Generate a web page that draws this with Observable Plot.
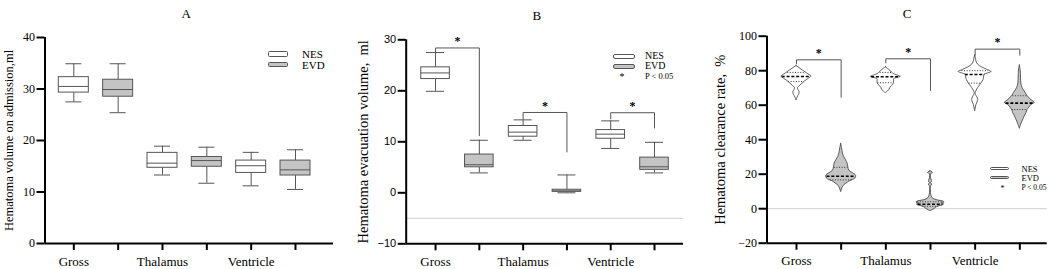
<!DOCTYPE html>
<html>
<head>
<meta charset="utf-8">
<script src="https://cdn.jsdelivr.net/npm/d3@7"></script>
<script src="https://cdn.jsdelivr.net/npm/@observablehq/plot@0.6"></script>
<style>
  body { margin: 0; background: #fff; }
  #wrap { position: relative; width: 1053px; height: 269px; overflow: hidden; background: #fff; font-family: "Liberation Serif", "Times New Roman", serif; color: #000; }
  .panel { position: absolute; top: 0; }
  .sw { position: absolute; box-sizing: border-box; border: 1px solid #555; }
  .lt { position: absolute; line-height: 1; transform: translateY(-50%); white-space: nowrap; color: #000; }
</style>
</head>
<body>
<div id="wrap"></div>
<script>
// ---------- data ----------
const categories = ["Gross", "Thalamus", "Ventricle"];
const groups = ["NES", "EVD"];
const positions = [1, 2, 3, 4, 5, 6]; // Gross NES, Gross EVD, Thalamus NES, Thalamus EVD, Ventricle NES, Ventricle EVD

// box stats [min, q1, median, q3, max]
const admissionStats = [
  [27.5, 29.3, 30.5, 32.3, 34.9],
  [25.4, 28.5, 29.9, 31.8, 34.9],
  [13.3, 14.7, 15.6, 17.6, 18.9],
  [11.7, 14.9, 16.1, 16.8, 18.7],
  [11.2, 13.7, 15.1, 16.1, 17.7],
  [10.5, 13.2, 14.3, 16.1, 18.2]
];
const evacuationStats = [
  [19.9, 22.3, 23.5, 24.6, 27.5],
  [3.9, 5.0, 5.5, 7.5, 10.3],
  [10.3, 11.0, 11.9, 13.1, 14.3],
  [0.0, 0.2, 0.35, 0.6, 3.5],
  [8.7, 10.6, 11.5, 12.3, 14.1],
  [3.9, 4.5, 5.1, 6.9, 9.9]
];

// violin profiles [value, relative density]
const clearanceGrossNES = [[82.7,0],[81.5,0.2],[80,0.45],[78.5,0.7],[77.3,0.9],[76.6,1],[75.5,0.85],[74,0.6],[72.5,0.4],[71,0.22],[70,0.1],[69,0.12],[67.8,0.2],[66.6,0.2],[65.3,0.12],[64,0.05],[62.7,0]];
const clearanceGrossEVD = [[37.6,0],[35,0.06],[32,0.12],[30,0.2],[28,0.33],[26,0.44],[24,0.48],[22,0.55],[20.5,0.8],[19,1],[17.5,0.95],[16,0.6],[14.5,0.35],[13,0.15],[11,0.05],[9.6,0]];
const clearanceThalNES = [[82,0],[81,0.15],[80,0.3],[79,0.4],[78,0.55],[77,0.85],[76.5,1],[75.8,0.75],[75,0.55],[74,0.55],[73,0.55],[72,0.5],[71,0.4],[70,0.3],[69,0.25],[68,0.15],[67,0]];
const clearanceThalEVD = [[21.6,0],[21,0.15],[20.5,0.15],[20,0.04],[18,0.03],[16,0.1],[15.5,0.1],[15,0.03],[14,0.1],[13.5,0.1],[13,0.03],[10,0.03],[8,0.05],[6,0.15],[5,0.4],[4,0.9],[3.5,0.93],[3,0.75],[2.5,0.9],[2,0.85],[1.5,0.6],[1,0.45],[0,0.3],[-1,0.1],[-1.4,0]];
const clearanceVentNES = [[88.8,0],[87,0.05],[85,0.1],[83.5,0.2],[82,0.45],[80.5,0.8],[79.3,1.1],[78.5,0.9],[77.5,0.6],[76,0.6],[74.5,0.55],[73,0.45],[71.5,0.33],[70,0.2],[68.5,0.1],[67,0.03],[66,0.05],[64.5,0.15],[63,0.2],[61.5,0.15],[60,0.08],[58,0.03],[56.5,0]];
const clearanceVentEVD = [[83,0],[80,0.06],[76,0.08],[72.5,0.1],[70,0.18],[68.5,0.28],[67,0.4],[65.6,0.48],[64.5,0.6],[63.5,0.7],[62.5,0.85],[61.4,1],[60.5,0.85],[59.5,0.7],[58.5,0.62],[57,0.5],[55.5,0.45],[54,0.35],[52,0.25],[50,0.15],[48,0.06],[46.3,0]];
// violin quartiles [q1, median, q3]
const clearanceQuartiles = [
  [73.7, 76.6, 79.0],
  [16.7, 18.8, 24.0],
  [73.0, 76.5, 79.0],
  [1.4, 2.6, 4.0],
  [72.8, 77.8, 80.0],
  [57.5, 61.2, 65.5]
];

// significance brackets: [left pos, right pos, top, left end, right end, star y]
const bracketsB = [
  [1, 2, 28.4, 27.6, 11.2, 30.3],
  [3, 4, 15.75, 14.5, 8.0, 17.6],
  [5, 6, 15.7, 14.5, 12.7, 17.5]
];
const bracketsC = [
  [1, 2, 86.3, 84.0, 64.6, 91.7],
  [3, 4, 86.9, 84.5, 68.5, 92.3],
  [5, 6, 92.5, 89.0, 89.0, 98.5]
];

const yTicksA = [0, 10, 20, 30, 40];
const yTicksB = [-10, 0, 10, 20, 30];
const yTicksC = [-20, 0, 20, 40, 60, 80, 100];
const refLineB = -5;
const refLineC = 0;

const titles = ["A", "B", "C"];
const yLabels = [
  "Hematoma volume on admission,ml",
  "Hematoma evacuation volume,\u00a0 ml",
  "Hematoma clearance rate,\u00a0 %"
];
const legendNote = "P < 0.05";

// ---------- helpers ----------
const fills = {NES: "#ffffff", EVD: "#c4c4c4"};
const groupOf = p => groups[(p - 1) % 2];
const catTick = p => (p % 2 === 1 ? categories[(p - 1) / 2] : "");

function boxRows(stats) {
  return stats.map((s, i) => ({pos: positions[i], g: groupOf(positions[i]), min: s[0], q1: s[1], med: s[2], q3: s[3], max: s[4]}));
}
function bracketLines(br) {
  const rows = [];
  br.forEach((b, i) => {
    rows.push({id: i, x: b[0], y: b[3]}, {id: i, x: b[0], y: b[2]}, {id: i, x: b[1], y: b[2]}, {id: i, x: b[1], y: b[4]});
  });
  return rows;
}
function widthAt(profile, v) {
  for (let i = 0; i < profile.length - 1; i++) {
    const [a, wa] = profile[i], [b, wb] = profile[i + 1];
    if ((v <= a && v >= b) || (v >= a && v <= b)) {
      const t = (v - a) / (b - a || 1);
      return wa + t * (wb - wa);
    }
  }
  return 0;
}

function commonAxes(o) {
  return [
    Plot.ruleX([o.xd[0]], {stroke: "#000", strokeWidth: 2}),
    Plot.ruleY([o.yd[0]], {stroke: "#000", strokeWidth: 2}),
    Plot.axisY({ticks: o.yTicks, tickSize: 8, tickPadding: 2, strokeWidth: 2, fontSize: o.tickFont, fontFamily: o.tickFamily, label: null}),
    Plot.axisX({ticks: positions, tickFormat: catTick, tickSize: 7, tickPadding: 6, strokeWidth: 2, fontSize: 13, label: null}),
    Plot.text([o.title], {frameAnchor: "top", dy: o.titleDy, dx: o.titleDx, fontSize: 13, fill: "#000"}),
    Plot.text([o.yLabel], {frameAnchor: "left", textAnchor: "middle", rotate: -90, dx: o.labelDx, fontSize: o.labelFont, fill: "#000"})
  ];
}

function basePlot(o, marks) {
  return Plot.plot({
    width: o.width, height: 269,
    marginLeft: o.ml, marginRight: o.mr, marginTop: o.mt, marginBottom: o.mb,
    x: {type: "linear", domain: o.xd, axis: null},
    y: {type: "linear", domain: o.yd, axis: null},
    style: {fontFamily: "'Liberation Serif', 'Times New Roman', serif", fontSize: "12px", color: "#000", background: "transparent", overflow: "visible"},
    marks: [...marks, ...commonAxes(o)]
  });
}

function boxMarks(stats, halfBox, halfCap) {
  const rows = boxRows(stats);
  return [
    Plot.ruleX(rows, {x: "pos", y1: "q3", y2: "max", stroke: "#555", strokeWidth: 1}),
    Plot.ruleX(rows, {x: "pos", y1: "min", y2: "q1", stroke: "#555", strokeWidth: 1}),
    Plot.ruleY(rows, {y: "max", x1: d => d.pos - halfCap, x2: d => d.pos + halfCap, stroke: "#555", strokeWidth: 1}),
    Plot.ruleY(rows, {y: "min", x1: d => d.pos - halfCap, x2: d => d.pos + halfCap, stroke: "#555", strokeWidth: 1}),
    Plot.rect(rows, {x1: d => d.pos - halfBox, x2: d => d.pos + halfBox, y1: "q1", y2: "q3", fill: d => fills[d.g], stroke: "#555", strokeWidth: 1}),
    Plot.ruleY(rows, {y: "med", x1: d => d.pos - halfBox, x2: d => d.pos + halfBox, stroke: "#555", strokeWidth: 1})
  ];
}

function bracketMarks(br) {
  return [
    Plot.line(bracketLines(br), {x: "x", y: "y", z: "id", stroke: "#555", strokeWidth: 1}),
    Plot.text(br, {x: d => (d[0] + d[1]) / 2, y: d => d[5], text: () => "*", fontSize: 12, fontWeight: "bold", fill: "#000", dy: 3})
  ];
}

// ---------- panel A ----------
const oA = {width: 350, ml: 44.5, mr: 17, mt: 37, mb: 26, xd: [0.35, 6.857], yd: [0, 40], yTicks: yTicksA,
  tickFont: 12, tickFamily: "Liberation Serif", title: titles[0], titleDy: -28.5, titleDx: -3, yLabel: yLabels[0], labelDx: -36.5, labelFont: 12.5};
const pxA = 44.34;
const plotA = basePlot(oA, boxMarks(admissionStats, 15 / pxA, 8 / pxA));

// ---------- panel B ----------
const oB = {width: 350, ml: 55.7, mr: 17, mt: 39.3, mb: 25.7, xd: [0.33, 6.662], yd: [-10, 30], yTicks: yTicksB,
  tickFont: 11, tickFamily: "Liberation Sans", title: titles[1], titleDy: -29.5, titleDx: -8, yLabel: yLabels[1], labelDx: -43, labelFont: 14.5};
const pxB = 43.8;
const plotB = basePlot(oB, [
  Plot.ruleY([refLineB], {stroke: "#cfcfcf", strokeWidth: 1}),
  ...boxMarks(evacuationStats, 14.3 / pxB, 9 / pxB),
  ...bracketMarks(bracketsB)
]);

// ---------- panel C ----------
const oC = {width: 353, ml: 66.5, mr: 6.3, mt: 35.7, mb: 26.3, xd: [0.34, 6.613], yd: [-20, 100], yTicks: yTicksC,
  tickFont: 12, tickFamily: "Liberation Serif", title: titles[2], titleDy: -27.5, titleDx: 0, yLabel: yLabels[2], labelDx: -46.5, labelFont: 14.5};
const pxC = 44.72;
const K = 15 / pxC;
const profiles = [clearanceGrossNES, clearanceGrossEVD, clearanceThalNES, clearanceThalEVD, clearanceVentNES, clearanceVentEVD];
const violinRows = [];
profiles.forEach((p, i) => p.forEach(([v, w]) => violinRows.push({pos: positions[i], g: groupOf(positions[i]), v, w})));
const qRows = [];
clearanceQuartiles.forEach((q, i) => {
  q.forEach((v, j) => qRows.push({pos: positions[i], g: groupOf(positions[i]), v, kind: j === 1 ? "med" : "q", w: widthAt(profiles[i], v)}));
});
const violinMarks = groups.map(g => Plot.areaX(violinRows.filter(d => d.g === g), {
  y: "v", x1: d => d.pos - d.w * K, x2: d => d.pos + d.w * K, z: "pos",
  fill: fills[g], stroke: "#3a3a3a", strokeWidth: 0.8, curve: "catmull-rom"
}));
const plotC = basePlot(oC, [
  Plot.ruleY([refLineC], {stroke: "#cfcfcf", strokeWidth: 1}),
  ...violinMarks,
  Plot.ruleY(qRows.filter(d => d.kind === "q"), {y: "v", x1: d => d.pos - d.w * K * 0.95, x2: d => d.pos + d.w * K * 0.95, stroke: "#333", strokeWidth: 1, strokeDasharray: "1,1.6"}),
  Plot.ruleY(qRows.filter(d => d.kind === "med"), {y: "v", x1: d => d.pos - d.w * K * 0.95, x2: d => d.pos + d.w * K * 0.95, stroke: "#000", strokeWidth: 1.6, strokeDasharray: "3,1.8"}),
  ...bracketMarks(bracketsC)
]);

// ---------- assemble ----------
const wrap = document.getElementById("wrap");
[[plotA, 0], [plotB, 350], [plotC, 700]].forEach(([p, left]) => {
  p.classList.add("panel");
  p.style.left = left + "px";
  wrap.appendChild(p);
});

// legends
function addSwatch(left, top, w, h, fill, radius) {
  const d = document.createElement("div");
  d.className = "sw";
  Object.assign(d.style, {left: left + "px", top: top + "px", width: w + "px", height: h + "px", background: fill, borderRadius: radius + "px"});
  wrap.appendChild(d);
}
function addText(left, cy, txt, size) {
  const s = document.createElement("span");
  s.className = "lt";
  Object.assign(s.style, {left: left + "px", top: cy + "px", fontSize: size + "px"});
  s.textContent = txt;
  wrap.appendChild(s);
}
// A legend
addSwatch(268, 51, 20, 5.5, fills.NES, 1.5);
addSwatch(268, 61.5, 20, 5.5, fills.EVD, 1.5);
addText(302, 53.8, groups[0], 11);
addText(302, 64.5, groups[1], 11);
// B legend
addSwatch(613, 54, 22, 4.5, fills.NES, 2);
addSwatch(613, 64, 22, 4.5, fills.EVD, 2);
addText(645, 56, groups[0], 10);
addText(645, 66.3, groups[1], 10);
addText(619.5, 76.5, "*", 10);
addText(645, 75.5, legendNote, 8.5);
// C legend
addSwatch(990, 166.8, 18.5, 3.5, fills.NES, 2);
addSwatch(990, 175.8, 18.5, 3.5, fills.EVD, 2);
addText(1021.5, 168.5, groups[0], 8.5);
addText(1021.5, 177.5, groups[1], 8.5);
addText(1000.5, 189, "*", 8);
addText(1021.5, 187.5, legendNote, 7.5);
</script>
</body>
</html>
